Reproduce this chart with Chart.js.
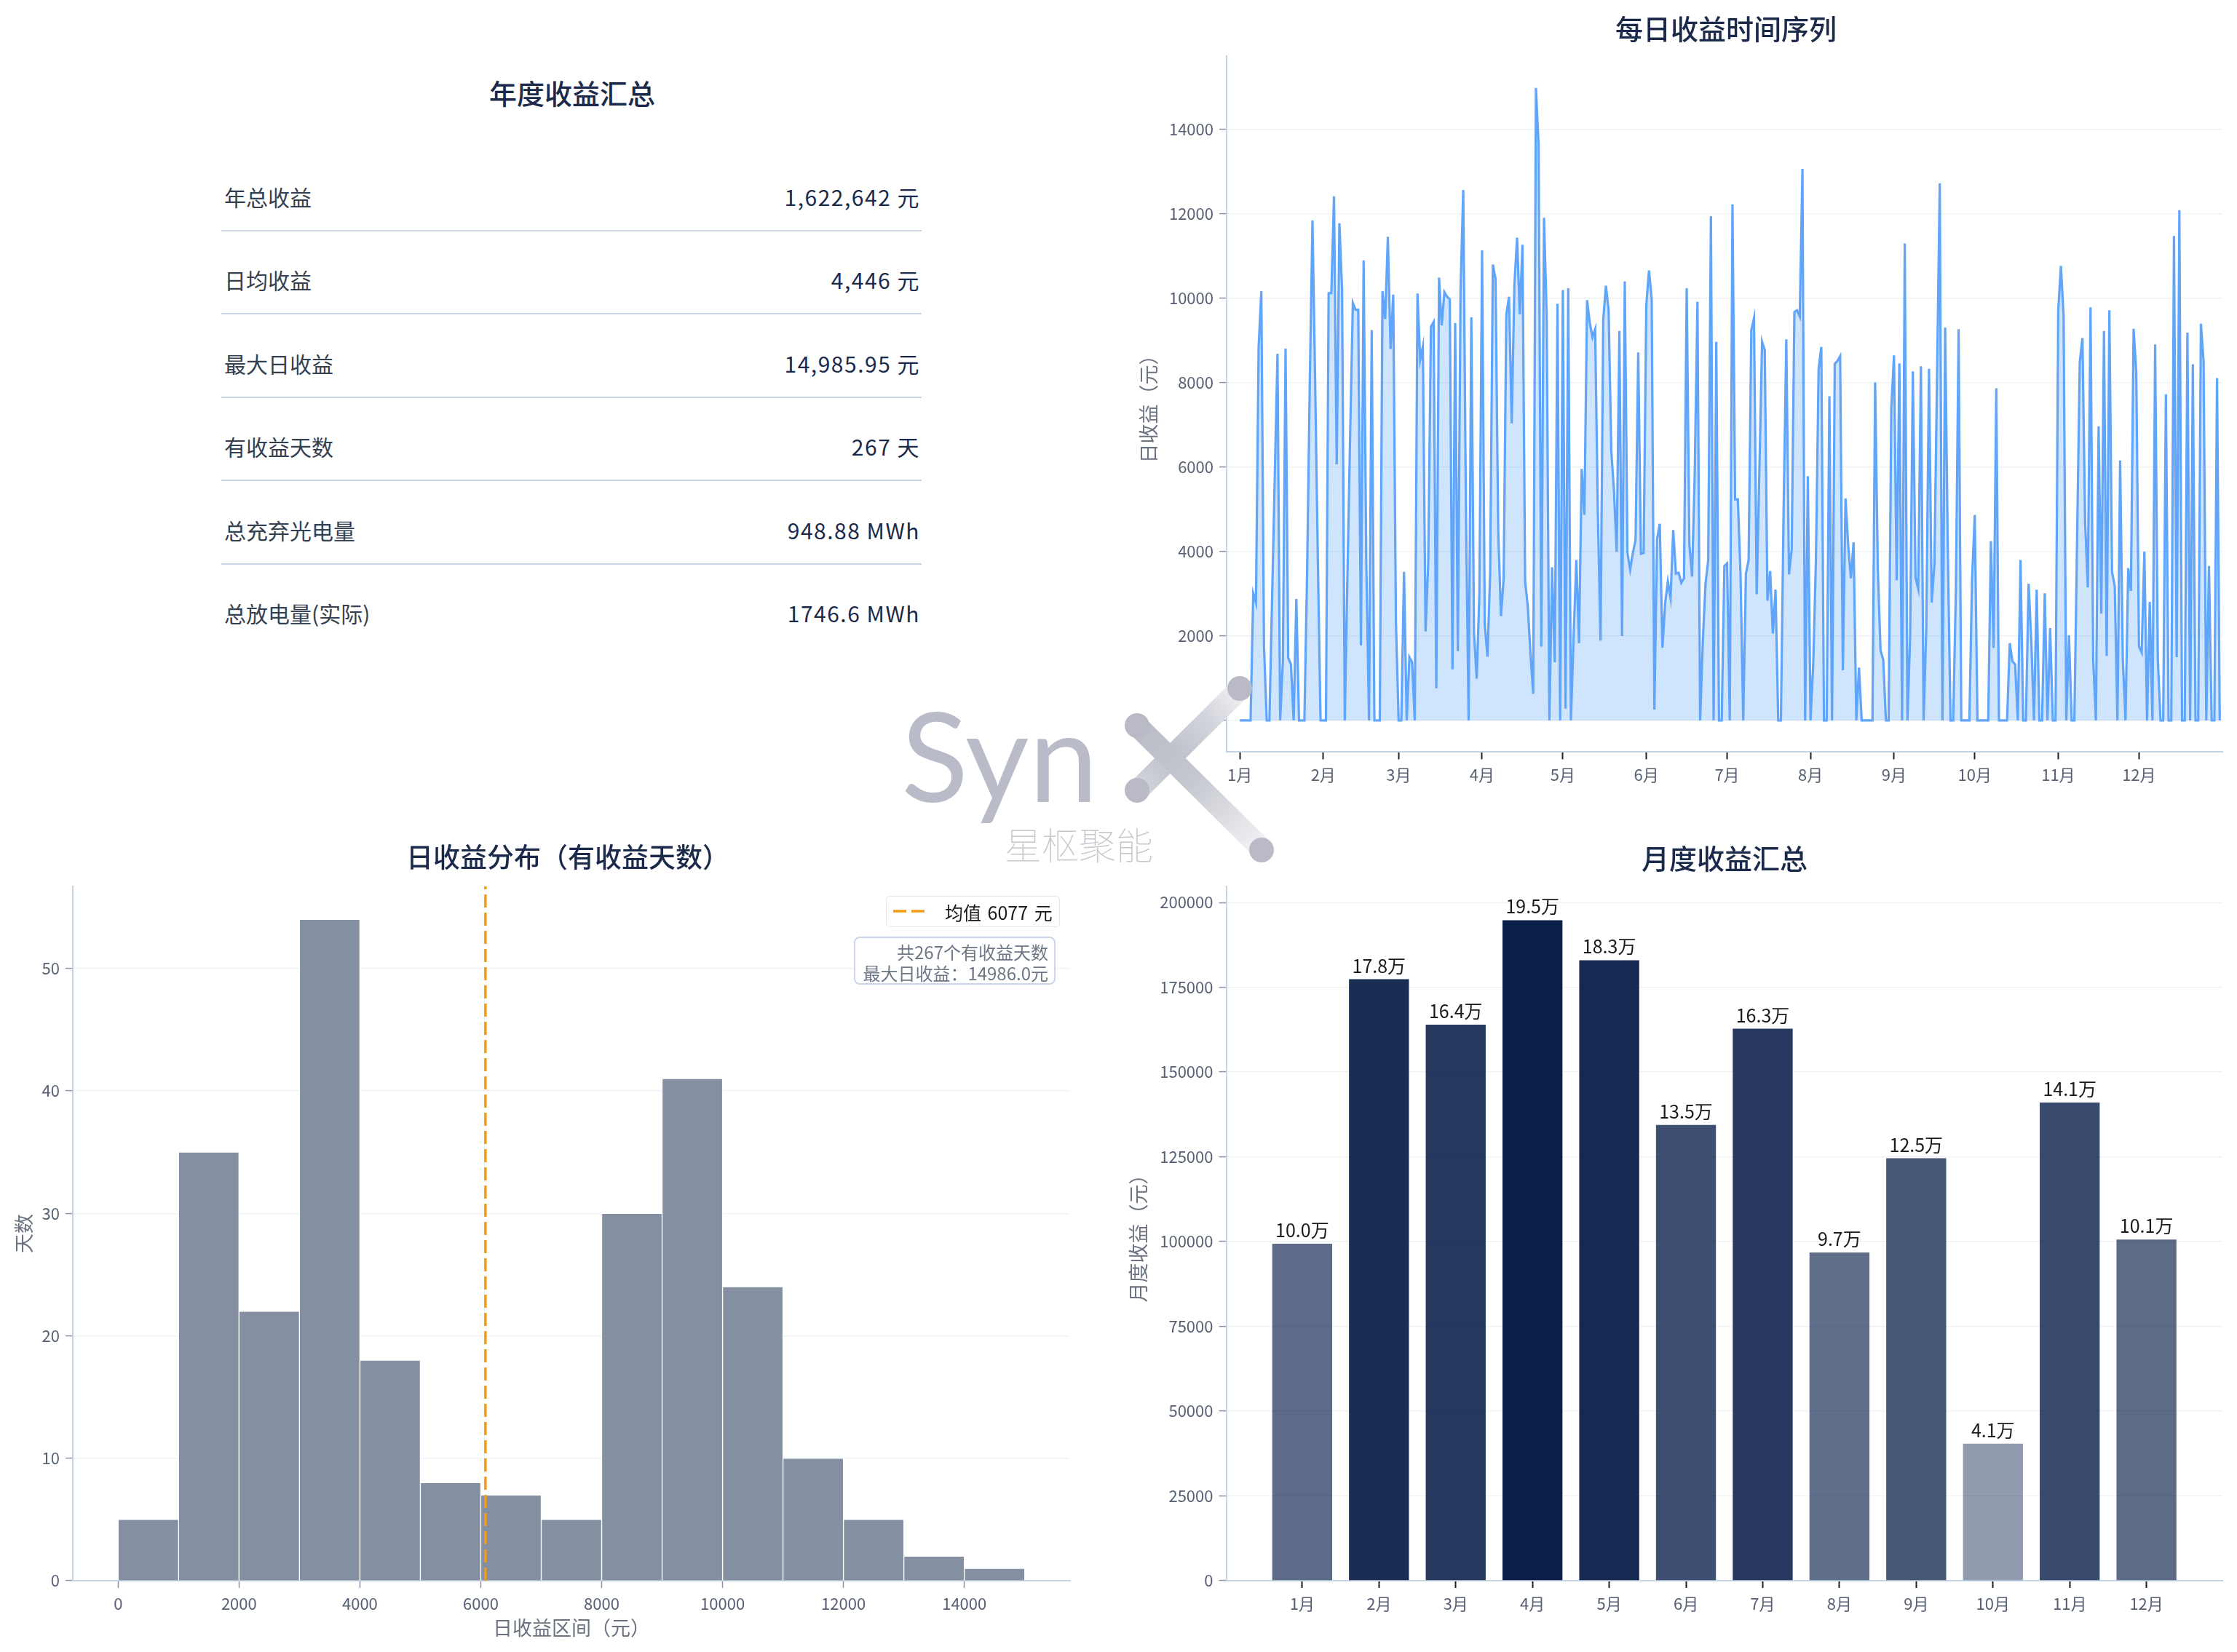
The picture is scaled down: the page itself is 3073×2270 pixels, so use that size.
<!DOCTYPE html>
<html><head><meta charset="utf-8">
<script src="https://cdn.jsdelivr.net/npm/chart.js@4.4.1/dist/chart.umd.min.js"></script>
<style>
html,body{margin:0;padding:0;background:#fff;}
#root{position:relative;width:3073px;height:2270px;overflow:hidden;background:#fff;font-family:'Noto Sans CJK SC',sans-serif;}
canvas{position:absolute;}
.title{position:absolute;transform:translate(-50%,-50%);font-size:38px;color:#1b2a4a;white-space:nowrap;font-weight:500;}
.rowLabel{position:absolute;left:308px;transform:translateY(-50%);font-size:30px;color:#34404f;white-space:nowrap;}
.rowValue{position:absolute;right:calc(3073px - 1264px);transform:translateY(-50%);font-size:30px;color:#1b2a4a;white-space:nowrap;letter-spacing:1.5px;}
.sep{position:absolute;left:304px;width:962px;height:2px;background:#c9d6e2;}
#legendBox{position:absolute;left:1217px;top:1231px;width:239px;height:43px;box-sizing:border-box;border:1.5px solid #e2e7ee;border-radius:5px;background:rgba(255,255,255,0.85);z-index:3;}
#legendText{position:absolute;left:1298px;top:1253px;transform:translateY(-50%);font-size:25px;color:#1a1a1a;white-space:nowrap;z-index:4;word-spacing:3px;}
#infoBox{position:absolute;left:1173px;top:1287px;width:277px;height:66px;box-sizing:border-box;border:2px solid #c9d6ea;border-radius:8px;background:rgba(255,255,255,0.85);z-index:3;}
.infoLine{position:absolute;right:calc(3073px - 1440px);transform:translateY(-50%);font-size:24px;color:#6f7786;white-space:nowrap;z-index:4;}
</style></head>
<body><div id="root">
<canvas id="cTs" width="1593" height="1100" style="left:1480px;top:0px;width:1593px;height:1100px;"></canvas>
<canvas id="cHist" width="1520" height="1130" style="left:0px;top:1140px;width:1520px;height:1130px;"></canvas>
<canvas id="cBar" width="1553" height="1130" style="left:1520px;top:1140px;width:1553px;height:1130px;"></canvas>
<div class="title" style="left:786px;top:126px;">年度收益汇总</div>
<div class="title" style="left:2371px;top:37px;">每日收益时间序列</div>
<div class="title" style="left:780px;top:1176px;font-size:37px;">日收益分布（有收益天数）</div>
<div class="title" style="left:2369px;top:1177px;">月度收益汇总</div>
<div id="table"></div>
<div id="legendBox"></div>
<svg style="position:absolute;left:1227px;top:1247px;z-index:4" width="50" height="10"><line x1="0" y1="5" x2="46" y2="5" stroke="#f39c12" stroke-width="3.5" stroke-dasharray="18 7"/></svg>
<div id="legendText"></div>
<div id="infoBox"></div>
<div class="infoLine" id="info1" style="top:1307px;"></div>
<div class="infoLine" id="info2" style="top:1336px;"></div>
<svg style="position:absolute;left:0;top:0;pointer-events:none;z-index:6" width="3073" height="2270">
<defs>
<linearGradient id="g1" gradientUnits="userSpaceOnUse" x1="1562" y1="1087" x2="1703" y2="947">
<stop offset="0" stop-color="#d4d6dd"/><stop offset="0.35" stop-color="#bec0cb"/><stop offset="0.7" stop-color="#d3d5dc"/><stop offset="1" stop-color="#f0f1f4"/></linearGradient>
<linearGradient id="g2" gradientUnits="userSpaceOnUse" x1="1562" y1="997" x2="1735" y2="1168">
<stop offset="0" stop-color="#b9bbc6"/><stop offset="0.45" stop-color="#c6c8d0"/><stop offset="1" stop-color="#f3f4f6"/></linearGradient>
</defs>
<line x1="1562" y1="1087" x2="1703" y2="947" stroke="url(#g1)" stroke-width="30"/>
<line x1="1562" y1="997" x2="1735" y2="1168" stroke="url(#g2)" stroke-width="30"/>
<circle cx="1562" cy="997" r="17" fill="#b9bac6"/>
<circle cx="1562" cy="1086" r="17" fill="#b9bac6"/>
<circle cx="1703" cy="946" r="17" fill="#b9bac6"/>
<circle cx="1733" cy="1168" r="17" fill="#b9bac6"/>
<text x="1238" y="1102" font-family="Lato, 'Open Sans', sans-serif" font-weight="400" font-size="170" fill="#b9bcc8">Syn</text>
<text x="1380" y="1181" font-family="'Noto Sans CJK SC'" font-weight="100" font-size="51" fill="#c5c7cd">星枢聚能</text>
</svg>
</div>
<script>
// ---------------- DATA ----------------
const summaryLabels = ['年总收益','日均收益','最大日收益','有收益天数','总充弃光电量','总放电量(实际)'];
const summaryValues = ['1,622,642 元','4,446 元','14,985.95 元','267 天','948.88 MWh','1746.6 MWh'];

const monthLabels = ['1月','2月','3月','4月','5月','6月','7月','8月','9月','10月','11月','12月'];
const monthDays = [31,28,31,30,31,30,31,31,30,31,30,31];

const dailyRevenue = [
0,0,0,0,0,3010,2790,8850,10170,1750,0,0,2900,5800,8690,0,1400,8810,1480,1330,
0,2880,0,0,0,3500,8000,11850,8000,3800,0,0,0,10125,10125,12420,6070,11780,10200,0,
3500,6800,9890,9730,9730,1780,10900,3690,0,9250,0,0,0,10170,9510,11460,8800,10090,2340,0,
0,3520,0,1500,1380,0,10115,8540,8860,2110,3740,9330,9440,760,10490,9360,10150,10040,9980,1210,
9420,1640,10200,12570,5000,0,9550,2060,990,3010,11140,2280,1510,3500,10800,10460,4470,2470,3350,9620,
10040,7040,10320,11440,9620,11270,3290,2680,1550,630,14986,13630,1750,11910,9590,0,3630,1380,9870,0,
10200,280,10240,0,2000,3800,1830,5960,4870,9960,9420,9080,9270,4920,1890,9500,10300,9720,6380,5430,
3990,9230,2000,10400,3970,3570,3970,4270,8720,3950,3970,9850,10660,9980,260,4300,4660,1720,2790,3290,
2900,4510,3480,3500,3260,3370,10240,4160,3410,5900,9920,0,1890,3240,3800,11950,0,8970,0,0,
3660,3720,0,12230,5240,5240,3460,0,3480,3800,9250,9530,2990,5930,8970,8770,2840,3540,2060,3100,
0,0,5000,9030,3460,4050,9680,9720,9570,13070,0,5790,0,1330,3800,8330,8850,0,0,7680,
0,8450,8520,8630,1190,5260,4140,3370,4220,0,1250,0,0,0,0,0,8010,3570,1660,1440,
0,0,7400,8650,3320,8460,0,11300,0,2000,8270,3380,3120,8390,0,2200,8330,2790,3690,8180,
12730,0,9310,4000,0,0,3120,9270,0,0,0,0,3350,4870,0,0,0,0,0,4250,
1720,7870,0,0,0,0,1830,1400,1330,0,3800,0,0,3240,1900,0,3100,0,0,3010,
0,2190,0,0,9700,10770,9590,0,2020,0,0,4250,8490,9060,4700,3150,9790,1440,0,6970,
2530,9230,1530,9720,3520,3180,0,6160,1440,0,3610,3070,9280,8240,1750,1610,4000,0,2810,0,
8910,1440,0,0,7730,0,0,11480,1500,12090,0,0,9190,0,8440,0,0,9400,8500,0,
3660,0,0,8110,0
];
const tsYTicks = [0,2000,4000,6000,8000,10000,12000,14000];

const histBinEdges = [0,1000,2000,3000,4000,5000,6000,7000,8000,9000,10000,11000,12000,13000,14000,15000];
const histCounts = [5,35,22,54,18,8,7,5,30,41,24,10,5,2,1];
const histXTicks = [0,2000,4000,6000,8000,10000,12000,14000];
const histYTicks = [0,10,20,30,40,50];
const meanDaily = 6077;
const activeDays = 267;
const maxDaily = 14986.0;

const monthlyRevenue = [99600,177600,164200,195000,183200,134600,163000,97000,124800,40600,141200,100800];
const barYTicks = [0,25000,50000,75000,100000,125000,150000,175000,200000];

// ---------------- TABLE / TEXT ----------------
const tbl = document.getElementById('table');
summaryLabels.forEach((lab, i) => {
  const cy = 270 + i * 114.4;
  const l = document.createElement('div'); l.className = 'rowLabel'; l.style.top = cy + 'px'; l.textContent = lab; tbl.appendChild(l);
  const v = document.createElement('div'); v.className = 'rowValue'; v.style.top = cy + 'px'; v.textContent = summaryValues[i]; tbl.appendChild(v);
  if (i < summaryLabels.length - 1) {
    const s = document.createElement('div'); s.className = 'sep'; s.style.top = (cy + 46) + 'px'; tbl.appendChild(s);
  }
});
document.getElementById('legendText').textContent = '均值 ' + meanDaily + ' 元';
document.getElementById('info1').textContent = '共' + activeDays + '个有收益天数';
document.getElementById('info2').textContent = '最大日收益：' + maxDaily.toFixed(1) + '元';

// ---------------- CHARTS ----------------
Chart.defaults.font.family = "'Noto Sans CJK SC', sans-serif";
Chart.defaults.color = '#5b6475';
const tickColor = '#566072';
const spine = {color:'#c5d5e4', width:2};
const gridColor = '#edf0f4';
const axisTitleFont = {size: 27};

const monthStarts = [];
monthDays.forEach((d, i) => monthStarts.push(i === 0 ? 0 : monthStarts[i-1] + monthDays[i-1]));

const tsMax = Math.max(...dailyRevenue);
new Chart(document.getElementById('cTs'), {
  type: 'line',
  data: { datasets: [{
    data: dailyRevenue.map((v, i) => ({x: i, y: v})),
    borderColor: '#60a5fa', backgroundColor: 'rgba(96,165,250,0.3)', fill: 'origin',
    borderWidth: 3.2, pointRadius: 0, tension: 0
  }]},
  options: {
    responsive: false, animation: false, events: [],
    layout: { padding: { left: 0, right: 20, top: 77.4, bottom: 6.6 } },
    plugins: { legend: { display: false }, tooltip: { enabled: false } },
    scales: {
      x: { type: 'linear', min: -4.9, max: 365,
        afterBuildTicks: s => { s.ticks = monthStarts.map(v => ({value: v})); },
        afterFit: s => { s.height = 60; },
        ticks: { autoSkip: false, maxRotation: 0, padding: 8, color: tickColor, font: {size: 22}, callback: v => monthLabels[monthStarts.indexOf(v)] },
        grid: { drawOnChartArea: false, tickLength: 10, tickColor: '#222', tickWidth: 2 },
        border: spine },
      y: { min: -0.05 * tsMax, max: 1.05 * tsMax,
        afterBuildTicks: s => { s.ticks = tsYTicks.map(v => ({value: v})); },
        afterFit: s => { s.width = 205; },
        ticks: { padding: 8, color: tickColor, font: {size: 22}, callback: v => String(v) },
        grid: { color: gridColor, lineWidth: 1.2, tickLength: 10, tickColor: '#8a93a3', tickWidth: 1.5 },
        border: spine,
        title: { display: true, text: '日收益（元）', color: '#6b7280', font: axisTitleFont, padding: {top: 82, bottom: 0} } }
    }
  }
});

const histMaxCount = Math.max(...histCounts);
const histEdgeMax = histBinEdges[histBinEdges.length - 1];
new Chart(document.getElementById('cHist'), {
  type: 'bar',
  data: { datasets: [
    { type: 'bar', data: histCounts.map((c, i) => ({x: (histBinEdges[i] + histBinEdges[i+1]) / 2, y: c})),
      backgroundColor: '#8490a1', borderColor: '#ffffff', borderWidth: 1, barPercentage: 1, categoryPercentage: 1, order: 2 },
    { type: 'line', data: [{x: meanDaily, y: 0}, {x: meanDaily, y: histMaxCount * 1.05}],
      borderColor: '#f39c12', borderDash: [18, 7], borderWidth: 3.5, pointRadius: 0, fill: false, order: 1 }
  ]},
  options: {
    responsive: false, animation: false, events: [],
    layout: { padding: { left: 0, right: 50, top: 78, bottom: 0 } },
    plugins: { legend: { display: false }, tooltip: { enabled: false } },
    scales: {
      x: { type: 'linear', min: -0.05 * histEdgeMax, max: 1.05 * histEdgeMax, offset: false,
        afterBuildTicks: s => { s.ticks = histXTicks.map(v => ({value: v})); },
        afterFit: s => { s.height = 98; },
        ticks: { autoSkip: false, maxRotation: 0, padding: 8, color: tickColor, font: {size: 22}, callback: v => String(v) },
        grid: { drawOnChartArea: false, offset: false, tickLength: 10, tickColor: '#8a93a3', tickWidth: 1.5 },
        border: spine,
        title: { display: true, text: '日收益区间（元）', color: '#6b7280', font: axisTitleFont, padding: {top: 0, bottom: 17} } },
      y: { min: 0, max: histMaxCount * 1.05,
        afterBuildTicks: s => { s.ticks = histYTicks.map(v => ({value: v})); },
        afterFit: s => { s.width = 100; },
        ticks: { padding: 8, color: tickColor, font: {size: 22}, callback: v => String(v) },
        grid: { color: gridColor, lineWidth: 1.2, tickLength: 10, tickColor: '#8a93a3', tickWidth: 1.5 },
        border: spine,
        title: { display: true, text: '天数', color: '#6b7280', font: axisTitleFont, padding: {top: 17, bottom: 0} } }
    }
  }
});

const barMax = Math.max(...monthlyRevenue);
const barColors = monthlyRevenue.map(v => 'rgba(10,31,74,' + (0.3 + 0.7 * v / barMax).toFixed(3) + ')');
const barLabelPlugin = {
  id: 'barLabels',
  afterDatasetsDraw(chart) {
    const meta = chart.getDatasetMeta(0);
    const ctx = chart.ctx;
    ctx.save();
    ctx.font = "25px 'Noto Sans CJK SC'";
    ctx.fillStyle = '#1a1a1a';
    ctx.textAlign = 'center';
    ctx.textBaseline = 'bottom';
    meta.data.forEach((bar, i) => {
      ctx.fillText((monthlyRevenue[i] / 10000).toFixed(1) + '万', bar.x, bar.y - 5);
    });
    ctx.restore();
  }
};
new Chart(document.getElementById('cBar'), {
  type: 'bar',
  data: { datasets: [{
    data: monthlyRevenue.map((v, i) => ({x: i, y: v})),
    backgroundColor: barColors, borderColor: 'rgba(255,255,255,0.7)', borderWidth: 1,
    barPercentage: 0.8, categoryPercentage: 1
  }]},
  options: {
    responsive: false, animation: false, events: [],
    layout: { padding: { left: 0, right: 20, top: 78, bottom: 0 } },
    plugins: { legend: { display: false }, tooltip: { enabled: false } },
    scales: {
      x: { type: 'linear', min: -0.99, max: 11.99, offset: false,
        afterBuildTicks: s => { s.ticks = monthLabels.map((m, i) => ({value: i})); },
        afterFit: s => { s.height = 98; },
        ticks: { autoSkip: false, maxRotation: 0, padding: 8, color: tickColor, font: {size: 22}, callback: v => monthLabels[v] },
        grid: { drawOnChartArea: false, offset: false, tickLength: 10, tickColor: '#222', tickWidth: 2 },
        border: spine },
      y: { min: 0, max: barMax * 1.05,
        afterBuildTicks: s => { s.ticks = barYTicks.map(v => ({value: v})); },
        afterFit: s => { s.width = 164.5; },
        ticks: { padding: 8, color: tickColor, font: {size: 22}, callback: v => String(v) },
        grid: { color: gridColor, lineWidth: 1.2, tickLength: 10, tickColor: '#8a93a3', tickWidth: 1.5 },
        border: spine,
        title: { display: true, text: '月度收益（元）', color: '#6b7280', font: axisTitleFont, padding: {top: 28, bottom: 0} } }
    }
  },
  plugins: [barLabelPlugin]
});
</script>
</body></html>
